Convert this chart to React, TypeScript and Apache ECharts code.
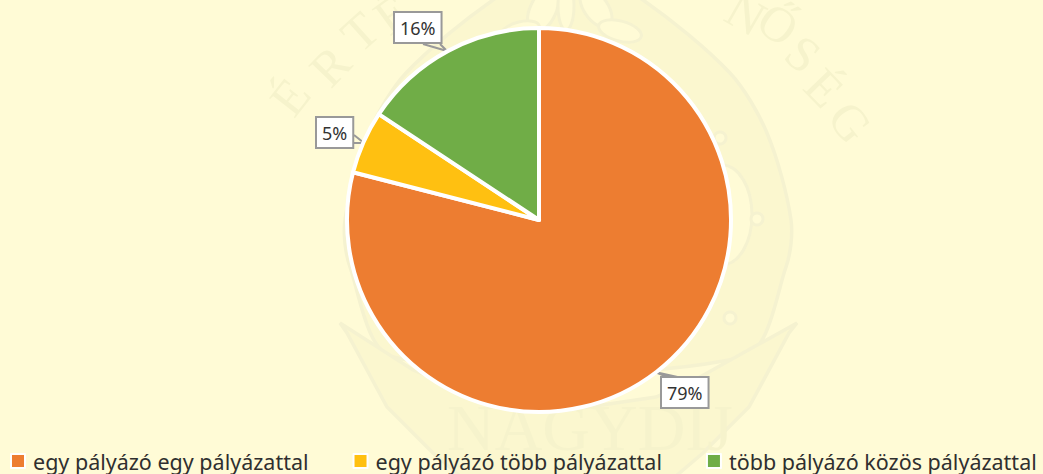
import React, { useEffect, useRef } from "react";
import * as echarts from "echarts";

const categories = ["egy pályázó egy pályázattal", "egy pályázó több pályázattal", "több pályázó közös pályázattal"];
const values = [79, 5.3, 15.7];
const colors = ["#ED7D31", "#FFC011", "#70AD47"];
const boxes = [
  { x: 662, y: 378, line: [[670, 378], [655, 372], [682, 378]] },
  { x: 317, y: 118, line: [[354, 135], [364, 143], [354, 143]] },
  { x: 395, y: 13, line: [[423, 44], [447, 51], [440, 44]] },
];

const CX = 568;
const LIGHT = "#FFFBD6";
const DARK = "#FBF7CF";
const LINE = "#F5F2D0";
const mirror = (pts: number[][]) => [...pts].reverse().map(([x, y]) => [2 * CX - x, y]);

const outerLeft = [[568, -210], [400, -120], [283, 0], [236, 120], [232, 200], [280, 333], [347, 417], [407, 467], [480, 525], [568, 590]];
const midLeft = [[568, -90], [443, 0], [367, 103], [333, 167], [320, 240], [347, 333], [387, 407], [433, 453], [500, 510], [568, 555]];
const innerTop = [[568, -40], [493, 0], [406, 73], [369, 133], [345, 220], [350, 267], [393, 357]];
const lowerBand = [[340, 323], [413, 370], [480, 397], [568, 410], [656, 397], [700, 377], [797, 323], [789, 333], [749, 407], [703, 453], [636, 510], [568, 555], [500, 510], [433, 453], [387, 407], [347, 333]];

const lens = (left: number[][], fill: string, width = 3.5) => ({
  type: "polygon", z: -10, silent: true,
  shape: { points: [...left, ...mirror(left).slice(1, -1)], smooth: "spline" },
  style: { fill, stroke: LINE, lineWidth: width },
});

const petal = (cx: number, cy: number, rx: number, ry: number, rot: number) => ({
  type: "ellipse", z: -8, silent: true, x: cx, y: cy, rotation: (rot * Math.PI) / 180,
  shape: { cx: 0, cy: 0, rx, ry },
  style: { fill: LIGHT, stroke: LINE, lineWidth: 3 },
});

const letter = (text: string, x: number, y: number, rot: number, size = 50) => ({
  type: "text", z: -7, silent: true, x, y, rotation: (rot * Math.PI) / 180,
  style: { text, fill: "#F6F3CC", font: `${size}px "Liberation Serif"`, align: "center", verticalAlign: "middle", lineHeight: 24 },
});

const watermark = [
  lens(outerLeft, DARK),
  lens(midLeft, LIGHT),
  {
    type: "polygon", z: -9, silent: true,
    shape: { points: [...innerTop, ...[...innerTop].reverse().map(([x, y]) => [2 * CX - x, y]).slice(0, -1)], smooth: 0.3 },
    style: { fill: DARK, stroke: LINE, lineWidth: 3.5 },
  },
  {
    type: "polygon", z: -9, silent: true,
    shape: { points: lowerBand },
    style: { fill: DARK, stroke: LINE, lineWidth: 3.5 },
  },
  petal(543, 10, 13, 24, -25),
  petal(596, 8, 12, 22, 35),
  petal(620, 31, 22, 10, -15),
  petal(520, 31, 20, 9, 15),
  petal(566, 6, 8, 24, 0),
  petal(722, 215, 30, 50, 0),
  { type: "circle", z: -8, silent: true, shape: { cx: 757, cy: 219, r: 6 }, style: { fill: LIGHT, stroke: LINE, lineWidth: 3 } },
  { type: "circle", z: -8, silent: true, shape: { cx: 720, cy: 138, r: 6 }, style: { fill: LIGHT, stroke: LINE, lineWidth: 3 } },
  { type: "circle", z: -8, silent: true, shape: { cx: 730, cy: 318, r: 6 }, style: { fill: LIGHT, stroke: LINE, lineWidth: 3 } },
  letter("É", 290, 97, 52),
  letter("R", 330, 66, 46),
  letter("T", 360, 32, 42),
  letter("É", 392, 14, 36),
  letter("N", 746, 14, -30),
  letter("Ő", 778, 24, -36),
  letter("S", 803, 54, -40),
  letter("É", 824, 88, -46),
  letter("G", 850, 122, -52),
  {
    type: "text", z: -7, silent: true, x: 447, y: 409,
    style: { text: "NAGYDÍJ", fill: "#F6F3CC", font: '66px "Liberation Serif"', lineHeight: 36 },
  },
];

export default function App() {
  const ref = useRef<HTMLDivElement>(null);
  useEffect(() => {
    const chart = echarts.init(ref.current!, undefined, { renderer: "svg" });
    chart.setOption({
      animation: false,
      backgroundColor: LIGHT,
      graphic: { elements: watermark },
      legend: {
        left: 10,
        top: 450,
        width: 1033,
        itemWidth: 14,
        itemHeight: 14,
        itemGap: 44,
        icon: "rect",
        padding: 0,
        textStyle: { fontFamily: "Noto Sans", fontSize: 21.5, color: "#2F2F2F", padding: [0, 0, 0, 3] },
        data: categories,
      },
      series: [
        {
          type: "pie",
          center: [539, 220],
          radius: [0, 192],
          startAngle: 90,
          clockwise: true,
          color: colors,
          itemStyle: { borderColor: "#fff", borderWidth: 4 },
          data: categories.map((name, i) => ({ name, value: values[i] })),
          label: {
            show: true,
            formatter: (p: any) => `${Math.round(p.value)}%`,
            position: "outside",
            fontFamily: "Noto Sans",
            fontSize: 18,
            color: "#333",
            backgroundColor: "#fff",
            borderColor: "#999",
            borderWidth: 2,
            padding: [6, 5, 5, 5],
          },
          labelLine: { show: true, length: 6, length2: 4, lineStyle: { color: "#999", width: 2 } },
          labelLayout: (p: any) => {
            const b = boxes[p.dataIndex];
            return { x: b.x, y: b.y, align: "left", verticalAlign: "top", labelLinePoints: b.line };
          },
        },
      ],
    });
    return () => chart.dispose();
  }, []);
  return <div ref={ref} style={{ position: "fixed", left: 0, top: 0, width: 1043, height: 474 }} />;
}
